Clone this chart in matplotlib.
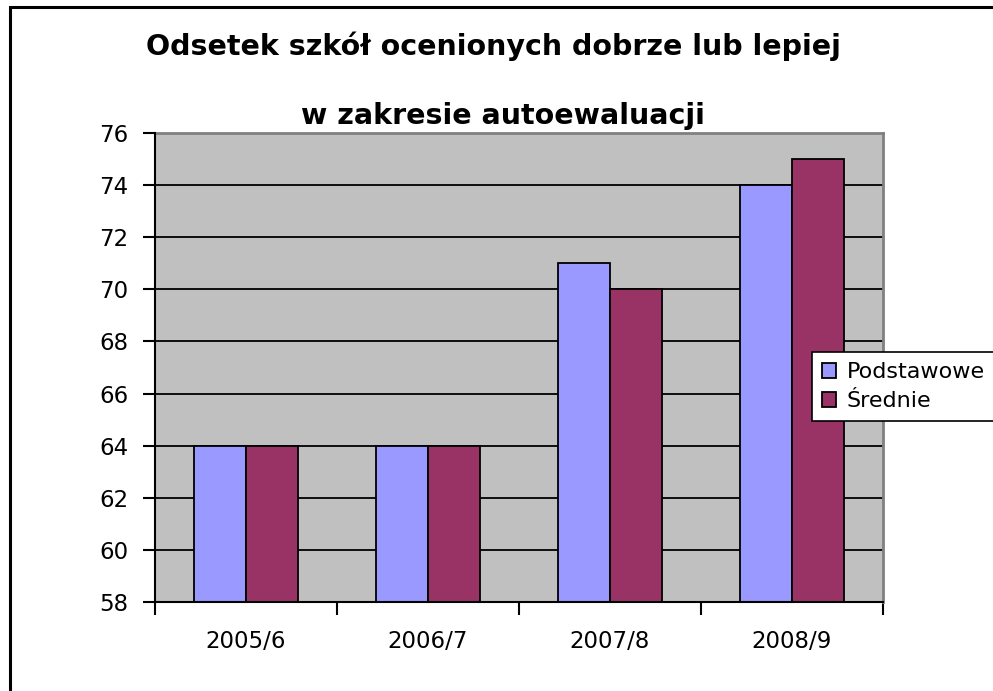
import matplotlib
matplotlib.use("Agg")
import matplotlib.pyplot as plt
from matplotlib.patches import Rectangle
import numpy as np

categories = ["2005/6", "2006/7", "2007/8", "2008/9"]
podstawowe = [64, 64, 71, 74]
srednie = [64, 64, 70, 75]
series_names = ["Podstawowe", "Średnie"]
yticks = [58, 60, 62, 64, 66, 68, 70, 72, 74, 76]

W, H = 993, 691
fig = plt.figure(figsize=(W / 100, H / 100), dpi=100)
fig.patch.set_facecolor("white")

# outer chart border (only left and top visible)
fig.add_artist(Rectangle((10 / W, -0.1), 1.2, (H - 7) / H + 0.1, transform=fig.transFigure,
                         fill=False, edgecolor="black", linewidth=2.2))

ax = fig.add_axes([155 / W, (H - 602) / H, (883 - 155) / W, (602 - 133) / H])
ax.set_facecolor("#C0C0C0")

x = np.arange(len(categories))
w = 0.285
ax.bar(x - w / 2, [v - 58 for v in podstawowe], w, bottom=58, color="#9999FF",
       edgecolor="black", linewidth=1.3, label=series_names[0], zorder=3)
ax.bar(x + w / 2, [v - 58 for v in srednie], w, bottom=58, color="#993366",
       edgecolor="black", linewidth=1.3, label=series_names[1], zorder=3)

ax.set_xlim(-0.5, len(categories) - 0.5)
ax.set_ylim(58, 76)
ax.set_yticks(yticks)
ax.set_yticklabels([str(t) for t in yticks], fontsize=16.5)
ax.yaxis.grid(True, color="black", linewidth=1.3, zorder=1)
ax.set_axisbelow(True)

ax.set_xticks(np.arange(-0.5, len(categories), 1.0))
ax.set_xticklabels([])
ax.set_xticks(x, minor=True)
ax.set_xticklabels(categories, minor=True, fontsize=16.5)
ax.tick_params(axis="x", which="minor", length=0, pad=20)
ax.tick_params(axis="x", which="major", length=9, width=1.5, direction="out")
ax.tick_params(axis="y", length=9, width=1.5, direction="out", pad=10)

for s in ["top", "right"]:
    ax.spines[s].set_color("#808080")
    ax.spines[s].set_linewidth(2)
for s in ["left", "bottom"]:
    ax.spines[s].set_color("black")
    ax.spines[s].set_linewidth(1.5)
ax.spines["left"].set_zorder(4)
ax.spines["bottom"].set_zorder(4)

fig.text(493 / W, 1 - 55 / H, "Odsetek szkół ocenionych dobrze lub lepiej",
         ha="center", va="baseline", fontsize=20.5, fontweight="bold")
fig.text(503 / W, 1 - 124 / H, "w zakresie autoewaluacji",
         ha="center", va="baseline", fontsize=20.5, fontweight="bold")

leg = fig.legend(loc="upper left",
                 bbox_to_anchor=(812 / W, 1 - 423 / H, (1005 - 812) / W, 71 / H),
                 mode="expand",
                 fontsize=16, frameon=True, fancybox=False, framealpha=1,
                 edgecolor="black", handlelength=0.65, handleheight=0.65,
                 handletextpad=0.45, borderpad=0.45, labelspacing=0.4,
                 borderaxespad=0)
leg.get_frame().set_linewidth(1.2)

fig.savefig("out.png", dpi=100)
